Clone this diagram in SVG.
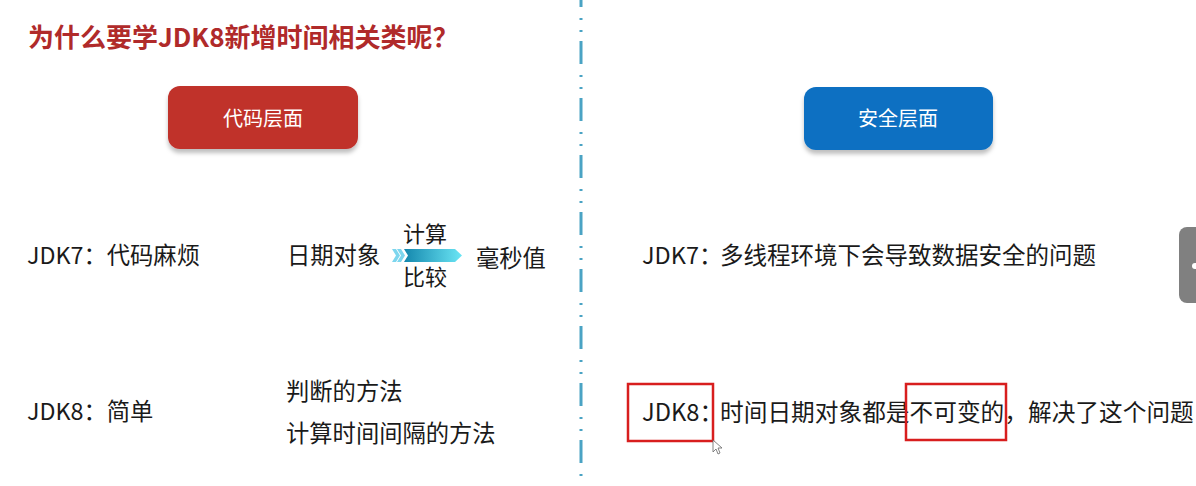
<svg xmlns="http://www.w3.org/2000/svg" width="1196" height="486" viewBox="0 0 1196 486">
<defs>
<style>
.t{font-family:"Noto Sans CJK SC","Noto Sans",sans-serif;fill:#1a1a1a}
.title{font-family:"Noto Sans CJK SC","Noto Sans",sans-serif;font-weight:bold;fill:#b02a2a;font-size:26px}
.btn{font-family:"Noto Sans CJK SC","Noto Sans",sans-serif;fill:#ffffff;font-size:20px}
.hl{fill:none;stroke:#d81e1e;stroke-width:2.5}
</style>
<linearGradient id="ag" x1="0" y1="0" x2="1" y2="0">
<stop offset="0" stop-color="#1487ad"/>
<stop offset="1" stop-color="#6be6f5"/>
</linearGradient>
<filter id="sh" x="-10%" y="-10%" width="120%" height="140%">
<feDropShadow dx="0" dy="4" stdDeviation="2" flood-color="#000" flood-opacity="0.25"/>
</filter>
</defs>
<rect width="1196" height="486" fill="#ffffff"/>
<text class="title" x="28" y="47">为什么要学JDK8新增时间相关类呢？</text>
<line x1="581" y1="0" x2="581" y2="486" stroke="#4aa3c4" stroke-width="3" stroke-dasharray="23 11 2 10 2 9" stroke-dashoffset="16"/>
<g id="btn-code">
<rect x="168" y="86" width="190" height="63" rx="12" fill="#c0302b" filter="url(#sh)"/>
<text class="btn" x="263" y="126" text-anchor="middle">代码层面</text>
</g>
<g id="btn-safe">
<rect x="804" y="87" width="189" height="63" rx="12" fill="#0a6fc2" filter="url(#sh)"/>
<text class="btn" x="898" y="126" text-anchor="middle">安全层面</text>
</g>
<g id="left-jdk7">
<text class="t" x="27" y="264" font-size="23.3">JDK7：代码麻烦</text>
<text class="t" x="287" y="264" font-size="23.3">日期对象</text>
<text class="t" x="403" y="242" font-size="22">计算</text>
<text class="t" x="403" y="285" font-size="22">比较</text>
<text class="t" x="476" y="267" font-size="23.3">毫秒值</text>
</g>
<g id="connectors">
<path d="M404 249 L455 249 L462 255.5 L455 262 L404 262 L408 255.5 Z" fill="url(#ag)"/>
<path d="M392 249 L396 249 L400 255.5 L396 262 L392 262 L396 255.5 Z M397 249 L401 249 L405 255.5 L401 262 L397 262 L401 255.5 Z" fill="#7dd6ee"/>
</g>
<g id="left-jdk8">
<text class="t" x="27" y="420" font-size="23.3">JDK8：简单</text>
<text class="t" x="286" y="400" font-size="23.3">判断的方法</text>
<text class="t" x="286" y="442" font-size="23.3">计算时间间隔的方法</text>
</g>
<g id="right-jdk7">
<text class="t" x="642" y="264" font-size="23.5">JDK7：<tspan x="720">多线程环境下会导致数据安全的问题</tspan></text>
</g>
<g id="right-jdk8">
<text class="t" x="642" y="421" font-size="23.7">JDK8：<tspan x="720">时间日期对象都是不可变的，解决了这个问题</tspan></text>
<rect class="hl" x="628" y="384" width="85" height="57"/>
<rect class="hl" x="906" y="384" width="100" height="56"/>
<path d="M713 440 L713 452 L716 449 L718 454 L720 453 L718 448 L722 448 Z" fill="#ffffff" stroke="#666" stroke-width="0.8"/>
</g>
<g id="side-tab">
<rect x="1179" y="227" width="30" height="76" rx="8" fill="#808080"/>
<circle cx="1195" cy="266" r="3" fill="#ffffff"/>
</g>
</svg>
